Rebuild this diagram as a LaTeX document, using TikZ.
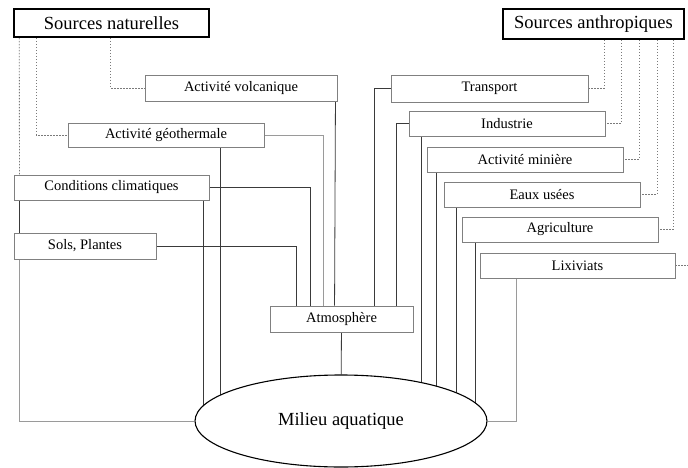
\documentclass[tikz,border=0pt]{standalone}
\usepackage{fontspec}
\setmainfont{Liberation Serif}
\usetikzlibrary{backgrounds,shapes.geometric}
\definecolor{boxgrey}{HTML}{808080}
\definecolor{linedark}{HTML}{3A3A3A}
\definecolor{linegrey}{HTML}{9A9A9A}
\definecolor{dotgrey}{HTML}{7A7A7A}
\begin{document}
\begin{tikzpicture}[x=1pt,y=-1pt,
  box/.style={draw=boxgrey, fill=white, line width=0.9pt, inner sep=0pt,
    font=\fontsize{14.5}{16}\selectfont},
  srcbox/.style={draw=black, fill=white, line width=1.6pt, inner sep=0pt,
    font=\fontsize{18.5}{20}\selectfont},
  conn/.style={draw=linedark, line width=0.8pt},
  greyconn/.style={draw=linegrey, line width=0.9pt},
  dotconn/.style={draw=dotgrey, line width=0.9pt, dash pattern=on 1.6pt off 1.4pt}]
\useasboundingbox (0,0) rectangle (688,468);
% sources
\node[srcbox, minimum width=195, minimum height=28] (SN) at (111.5,23) {Sources naturelles};
\node[srcbox, minimum width=181, minimum height=30] (SA) at (593.5,24) {Sources anthropiques};
% natural
\node[box, minimum width=192, minimum height=26] (AV) at (241,88) {Activité volcanique};
\node[box, minimum width=196, minimum height=24] (AG) at (166,135) {Activité géothermale};
\node[box, minimum width=195, minimum height=25] (CC) at (111.5,187.5) {Conditions climatiques};
\node[box, minimum width=142, minimum height=26] (SP) at (85,246) {Sols, Plantes};
% anthropic
\node[box, minimum width=197, minimum height=27] (Tr) at (489.5,88.5) {Transport};
\node[box, minimum width=196, minimum height=25] (In) at (507,123.5) {Industrie};
\node[box, minimum width=196, minimum height=25] (AM) at (525,159.5) {Activité minière};
\node[box, minimum width=196, minimum height=25] (EU) at (542,194.5) {Eaux usées};
\node[box, minimum width=196, minimum height=25] (Ag) at (560,229.5) {Agriculture};
\node[box, minimum width=195, minimum height=25] (Li) at (577.5,265.5) {Lixiviats};
% atmosphere and water
\node[box, minimum width=143, minimum height=26] (At) at (341.5,319) {Atmosphère};
\node[draw=black, fill=white, ellipse, line width=1.1pt, minimum width=292, minimum height=92,
  inner sep=0pt, font=\fontsize{18.5}{20}\selectfont] (MA) at (341,421) {Milieu aquatique};
\coordinate (liend) at (688,265.5);
\begin{scope}[on background layer]
% dotted links from sources
\draw[dotconn] ([xshift=6]SN.south west) -- ([xshift=6]CC.north west);
\draw[dotconn] ([xshift=23]SN.south west) |- (AG.west);
\draw[dotconn] ([xshift=97]SN.south west) |- (AV.west);
\draw[dotconn] ([xshift=102]SA.south west) |- (Tr.east);
\draw[dotconn] ([xshift=119]SA.south west) |- (In.east);
\draw[dotconn] ([xshift=137]SA.south west) |- (AM.east);
\draw[dotconn] ([xshift=155]SA.south west) |- (EU.east);
\draw[dotconn] ([xshift=171]SA.south west) |- (Ag.east);
\draw[dotconn] (Li.east) -- (liend);
% links to atmosphere
\draw[conn] (SP.east) -| ([xshift=27]At.north west);
\draw[conn] (CC.east) -| ([xshift=41]At.north west);
\draw[greyconn] (AG.east) -| ([xshift=54]At.north west);
\draw[conn] ([xshift=-2]AV.south east) -- ([xshift=65]At.north west);
\draw[conn] (Tr.west) -| ([xshift=105]At.north west);
\draw[conn] (In.west) -| ([xshift=127]At.north west);
% links to water
\draw[conn] (At) -- (MA);
\draw[conn] ([xshift=6]CC.south west) -- ([xshift=6]SP.north west);
\draw[greyconn] ([xshift=6]SP.south west) |- (MA.west);
\draw[conn] ([xshift=-6]CC.south east) |- (MA.center);
\draw[conn] ([xshift=153]AG.south west) |- (MA.center);
\draw[conn] ([xshift=13]In.south west) |- (MA.center);
\draw[conn] ([xshift=10]AM.south west) |- (MA.center);
\draw[conn] ([xshift=13]EU.south west) |- (MA.center);
\draw[conn] ([xshift=14]Ag.south west) |- (MA.center);
\draw[greyconn] ([xshift=37]Li.south west) |- (MA.east);
\end{scope}
\end{tikzpicture}
\end{document}
